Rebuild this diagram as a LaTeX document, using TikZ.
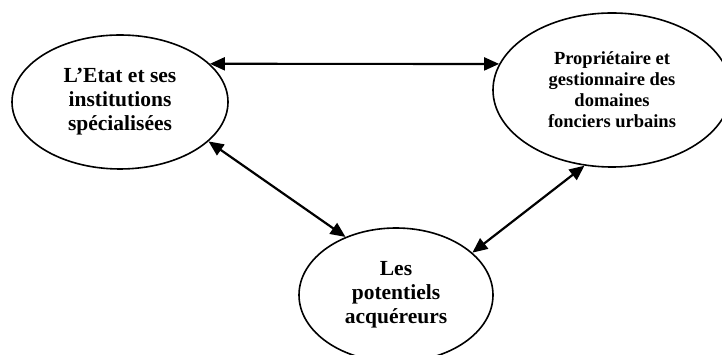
\documentclass[tikz,border=0pt]{standalone}
\usepackage{fontspec}
\setmainfont{Liberation Serif}
\usetikzlibrary{shapes, positioning, arrows.meta, calc}

\tikzset{
	acteur/.style={draw, ellipse, line width=1.6pt, inner sep=0pt, align=center, font=\bfseries\fontsize{21.5}{24}\selectfont},
	lien/.style={line width=2.2pt, {Triangle[length=15pt,width=13pt]}-{Triangle[length=15pt,width=13pt]}}
}

\begin{document}
\begin{tikzpicture}[x=1pt, y=1pt]
		\useasboundingbox (0,0) rectangle (722,355);
		\node[acteur, minimum width=216pt, minimum height=134pt] (etat) at (120,253) {L'Etat et ses\\institutions\\spécialisées};
		\node[acteur, minimum width=238pt, minimum height=154pt, font=\bfseries\fontsize{18.5}{21}\selectfont] (prop) at (612,265) {Propriétaire et\\gestionnaire des\\domaines\\fonciers urbains};
		\node[acteur, minimum width=194pt, minimum height=134pt] (acq) at (396,60) {Les\\potentiels\\acquéreurs};
		
		\draw (etat.23) edge[lien] (prop.167.5)
			  %
			  (etat.-24.7) edge[lien] (acq.131.3)
			  %
			  (prop.250.6) edge[lien] (acq.29.6)
		;
	\end{tikzpicture}
\end{document}
